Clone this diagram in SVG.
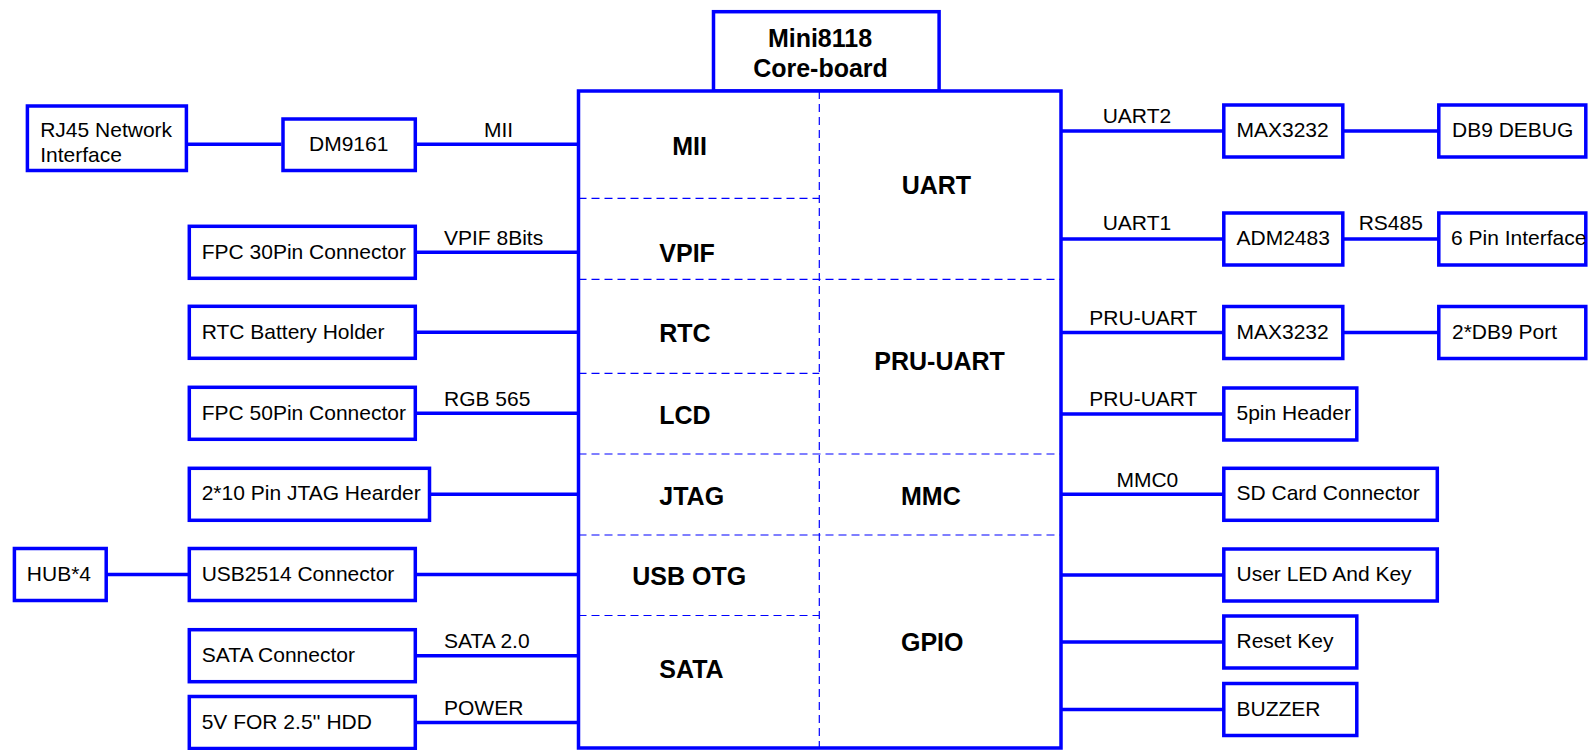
<svg xmlns="http://www.w3.org/2000/svg" width="1592" height="750" viewBox="0 0 1592 750">
<style>
.box{fill:#fff;stroke:#0000ff;stroke-width:3.5}
.ln{fill:none;stroke:#0000ff;stroke-width:3.5}
.dash{fill:none;stroke:#0000ff;stroke-width:1.2;stroke-dasharray:8 5}
.t{font-family:"Liberation Sans",Arial,sans-serif;font-size:21px;fill:#000}
.b{font-family:"Liberation Sans",Arial,sans-serif;font-size:25px;font-weight:bold;fill:#000}
</style>
<rect width="1592" height="750" fill="#fff"/>
<g id="connectors">
<path class="ln" d="M188 144.3H281.5M417 144.3H578.5M415.3 252.3H578.5M415.3 332.3H578.5M415.3 413.3H578.5M429.5 494.3H578.5M106 574.5H189.3M415.3 574.5H578.5M415.3 655.7H578.5M415.3 722.5H578.5"/>
<path class="ln" d="M1061 131H1223.8M1342.8 131H1438.8M1061 239H1223.8M1342.8 239H1438.8M1061 332.5H1223.8M1342.8 332.5H1438.8M1061 414H1223.8M1061 494.3H1223.8M1061 575H1223.8M1061 642H1223.8M1061 709.5H1223.8"/>
<text class="t" x="484" y="136.7">MII</text>
<text class="t" x="444" y="245">VPIF 8Bits</text>
<text class="t" x="444" y="406">RGB 565</text>
<text class="t" x="444" y="648.3">SATA 2.0</text>
<text class="t" x="444" y="715">POWER</text>
<text class="t" x="1102.7" y="123.3">UART2</text>
<text class="t" x="1102.7" y="230">UART1</text>
<text class="t" x="1358.7" y="230">RS485</text>
<text class="t" x="1089.3" y="325">PRU-UART</text>
<text class="t" x="1089.3" y="406">PRU-UART</text>
<text class="t" x="1116.4" y="486.7">MMC0</text>
</g>
<g id="core-title">
<rect class="box" x="713.5" y="11.7" width="225.6" height="79.3"/>
<text class="b" x="820" y="46.7" text-anchor="middle">Mini8118</text>
<text class="b" x="820.5" y="76.7" text-anchor="middle">Core-board</text>
</g>
<g id="core-board">
<rect class="box" x="578.5" y="91" width="482.5" height="657"/>
<path class="dash" d="M819.3 91V748M578.5 198.3H819.3M578.5 279.3H1061M578.5 373.3H819.3M578.5 454H1061M578.5 535H1061M578.5 615.5H819.3"/>
<text class="b" x="672.3" y="155">MII</text>
<text class="b" x="659.3" y="261.7">VPIF</text>
<text class="b" x="659.3" y="342.3">RTC</text>
<text class="b" x="659.3" y="424">LCD</text>
<text class="b" x="659.3" y="505">JTAG</text>
<text class="b" x="632.3" y="585">USB OTG</text>
<text class="b" x="659.3" y="678.3">SATA</text>
<text class="b" x="901.7" y="194">UART</text>
<text class="b" x="874.3" y="370">PRU-UART</text>
<text class="b" x="901" y="505">MMC</text>
<text class="b" x="901" y="650.7">GPIO</text>
</g>
<g id="rj45"><rect class="box" x="27.4" y="106" width="159" height="64.5"/><text class="t" x="40.2" y="136.7">RJ45 Network</text><text class="t" x="40.2" y="161.7">Interface</text></g>
<g id="dm9161"><rect class="box" x="283" y="119" width="132.3" height="51.5"/><text class="t" x="309" y="150.7">DM9161</text></g>
<g id="fpc30"><rect class="box" x="189.3" y="226.3" width="226" height="52"/><text class="t" x="201.7" y="258.5">FPC 30Pin Connector</text></g>
<g id="rtc-battery"><rect class="box" x="189.3" y="306.3" width="226" height="52"/><text class="t" x="201.7" y="339">RTC Battery Holder</text></g>
<g id="fpc50"><rect class="box" x="189.3" y="387.3" width="226" height="52"/><text class="t" x="201.7" y="419.5">FPC 50Pin Connector</text></g>
<g id="jtag-header"><rect class="box" x="189.3" y="468.3" width="240.2" height="52"/><text class="t" x="201.7" y="500">2*10 Pin JTAG Hearder</text></g>
<g id="hub"><rect class="box" x="14.4" y="548.5" width="91.8" height="52"/><text class="t" x="26.8" y="581">HUB*4</text></g>
<g id="usb2514"><rect class="box" x="189.3" y="548.5" width="226" height="52"/><text class="t" x="201.7" y="581">USB2514 Connector</text></g>
<g id="sata-conn"><rect class="box" x="189.3" y="629.7" width="226" height="52"/><text class="t" x="201.7" y="662">SATA Connector</text></g>
<g id="hdd-power"><rect class="box" x="189.3" y="696.5" width="226" height="52"/><text class="t" x="201.7" y="728.5">5V FOR 2.5'' HDD</text></g>
<g id="max3232-a"><rect class="box" x="1223.8" y="105" width="119" height="52"/><text class="t" x="1236.5" y="137">MAX3232</text></g>
<g id="db9-debug"><rect class="box" x="1438.8" y="105" width="147" height="52"/><text class="t" x="1452" y="137">DB9 DEBUG</text></g>
<g id="adm2483"><rect class="box" x="1223.8" y="213" width="119" height="52"/><text class="t" x="1236.5" y="245">ADM2483</text></g>
<g id="six-pin"><rect class="box" x="1438.8" y="213" width="147" height="52"/><text class="t" x="1451" y="245">6 Pin Interface</text></g>
<g id="max3232-b"><rect class="box" x="1223.8" y="306.5" width="119" height="52"/><text class="t" x="1236.5" y="339">MAX3232</text></g>
<g id="db9-port"><rect class="box" x="1438.8" y="306.5" width="147" height="52"/><text class="t" x="1452" y="339">2*DB9 Port</text></g>
<g id="five-pin"><rect class="box" x="1223.8" y="388" width="133" height="52"/><text class="t" x="1236.5" y="420">5pin Header</text></g>
<g id="sd-card"><rect class="box" x="1223.8" y="468.3" width="213.5" height="52"/><text class="t" x="1236.5" y="500.3">SD Card Connector</text></g>
<g id="user-led"><rect class="box" x="1223.8" y="549" width="213.5" height="52"/><text class="t" x="1236.5" y="581">User LED And Key</text></g>
<g id="reset-key"><rect class="box" x="1223.8" y="616" width="133" height="52"/><text class="t" x="1236.5" y="648.3">Reset Key</text></g>
<g id="buzzer"><rect class="box" x="1223.8" y="683.5" width="133" height="52"/><text class="t" x="1236.5" y="715.5">BUZZER</text></g>
</svg>
